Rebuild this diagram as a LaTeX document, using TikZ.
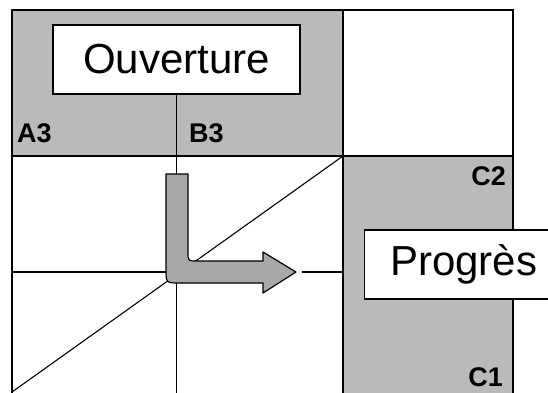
\documentclass[tikz,border=0pt]{standalone}
\usepackage{fontspec}
\setmainfont{Liberation Sans}
\usetikzlibrary{positioning}
\definecolor{cellgray}{RGB}{186,186,186}
\definecolor{bendgray}{RGB}{168,168,168}

\begin{document}
\begin{tikzpicture}[x=1pt, y=-1pt,
    grid/.style={line width=1.5pt},
    rule/.style={line width=1.1pt},
    textbox/.style={draw, fill=white, line width=1.2pt, minimum height=69pt,
                    inner sep=0pt, font=\fontsize{42}{42}\selectfont},
    tag/.style={font=\bfseries\fontsize{27}{27}\selectfont, inner sep=0pt},
    bendarrow/.style={draw, line width=1.2pt, fill=bendgray, line join=round},
  ]
  \clip (0,0) rectangle (548,392);
  \fill[cellgray] (12,10) rectangle (343,156);
  \fill[cellgray] (343,156) rectangle (513,400);

  \draw[grid] (12,400) -- (12,10) -- (513,10) -- (513,400);
  \draw[grid] (12,156) -- (513,156);
  \draw[grid] (343,10) -- (343,400);
  \draw[rule] (12,392) -- (343,156);

  \node[textbox, minimum width=247pt] (ouv) at (176.5,59.5) {Ouverture};
  \draw[rule] (ouv.south) -- (176.5,400);
  \draw[rule] (12,272) -- (180,272);

  \coordinate (tip) at (296,272);
  \coordinate (cedge) at (343,272);
  \draw[rule] ([xshift=6pt]tip) -- (cedge);

  \draw[bendarrow] (166,174) -- (188,174) -- (188,252) .. controls (188,261) .. (197,261)
    -- (263,261) -- (263,252) -- (tip) -- (263,293) -- (263,283) -- (180,283)
    .. controls (166,283) .. (166,269) -- cycle;

  \node[textbox, minimum width=198pt, anchor=west] (prog) at (364,264.5) {Progrès};

  \node[tag, anchor=base west] (a3) at (17,142) {A3};
  \node[tag, anchor=base west] (b3) at (189,142) {B3};
  \node[tag, anchor=base east] (c2) at (506,185) {C2};
  \node[tag, anchor=base east] (c1) at (503,386) {C1};
\end{tikzpicture}
\end{document}
